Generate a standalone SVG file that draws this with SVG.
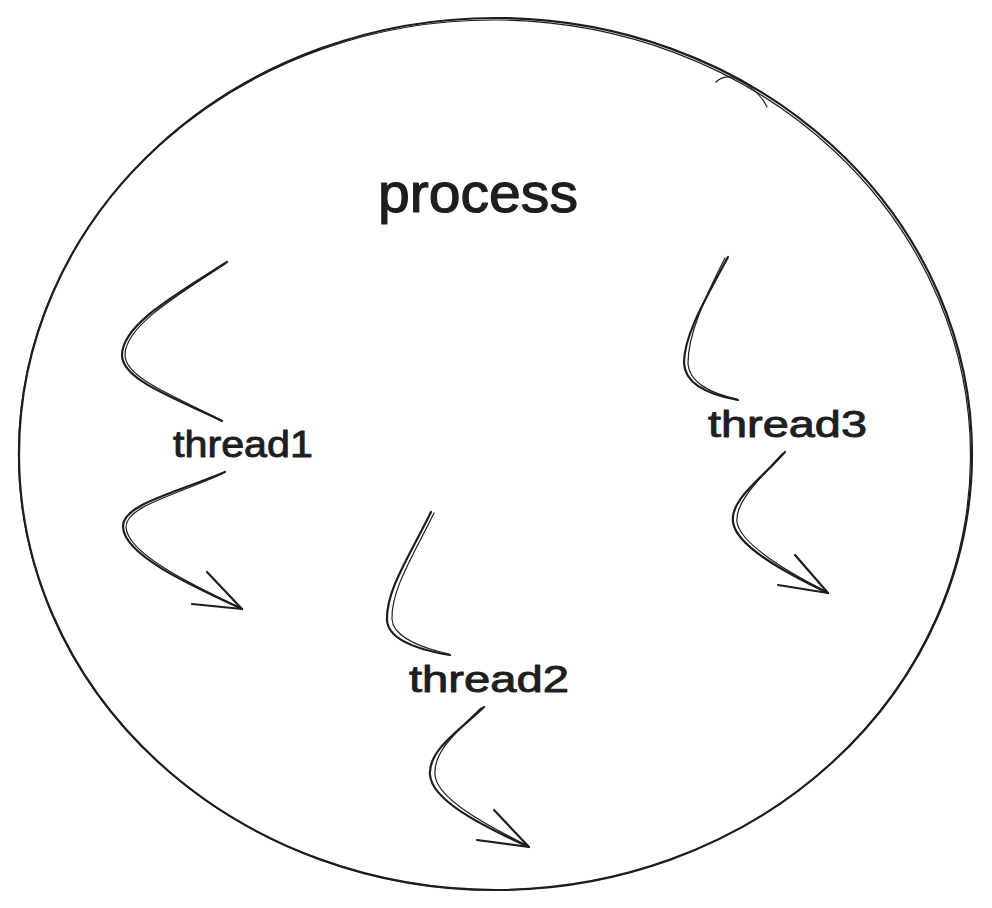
<svg xmlns="http://www.w3.org/2000/svg" width="992" height="908" viewBox="0 0 992 908">
  <style>
    .ink { fill: none; stroke: #1e1e1e; stroke-linecap: round; stroke-linejoin: round; }
    .main { stroke-width: 2.2; }
    .thin { stroke-width: 1.2; }
    .lbl { font-family: "Liberation Sans", "DejaVu Sans", sans-serif; fill: #1e1e1e; stroke: #1e1e1e; stroke-linejoin: round; }
    .thread { font-size: 36px; stroke-width: 0.9; }
    .title { font-size: 56px; stroke-width: 1.2; }
  </style>
  <rect width="992" height="908" fill="#ffffff"/>

  <g id="process">
    <ellipse class="ink main" cx="495.5" cy="454" rx="476.5" ry="436"/>
    <ellipse class="ink thin" cx="494.5" cy="455" rx="476" ry="435" transform="rotate(0.6 494.5 455)"/>
    <path class="ink thin" d="M716,82 Q722,76 732,77 Q758,88 767,107"/>
    <text class="lbl title" x="378" y="212" textLength="200" lengthAdjust="spacingAndGlyphs">process</text>
  </g>

  <g id="thread1">
    <text class="lbl thread" x="173" y="457" textLength="140" lengthAdjust="spacingAndGlyphs">thread1</text>
  </g>
  <g id="thread2">
    <text class="lbl thread" x="409" y="692" textLength="160" lengthAdjust="spacingAndGlyphs">thread2</text>
  </g>
  <g id="thread3">
    <text class="lbl thread" x="708" y="437" textLength="159" lengthAdjust="spacingAndGlyphs">thread3</text>
  </g>

  <g id="connectors">
    <!-- thread1 incoming -->
    <path class="ink main" d="M227,262 C175,295 122,325 122,355 C122,380 175,398 222,421"/>
    <path class="ink thin" d="M225,264 C174,297 125,327 125,355 C125,378 176,397 221,420"/>
    <!-- thread1 outgoing -->
    <path class="ink main" d="M225,472 C170,495 122,505 123,527 C124,555 190,585 242,609"/>
    <path class="ink thin" d="M222,474 C170,497 126,507 126,527 C127,553 190,584 241,608"/>
    <path class="ink main" d="M207,572 L242,609 L192,604"/>

    <!-- thread2 incoming -->
    <path class="ink main" d="M431,512 C410,555 386,590 387,620 C388,640 420,650 450,655"/>
    <path class="ink thin" d="M434,513 C413,556 391,590 392,619 C393,637 422,648 449,654"/>
    <!-- thread2 outgoing -->
    <path class="ink main" d="M484,707 C460,730 428,750 430,775 C432,800 480,825 529,847"/>
    <path class="ink thin" d="M481,708 C458,731 433,751 435,775 C437,798 482,823 528,846"/>
    <path class="ink main" d="M494,810 L529,847 L477,840"/>

    <!-- thread3 incoming -->
    <path class="ink main" d="M728,257 C705,300 684,335 684,363 C685,385 710,395 738,400"/>
    <path class="ink thin" d="M725,258 C703,301 688,336 688,363 C689,383 712,394 737,399"/>
    <!-- thread3 outgoing -->
    <path class="ink main" d="M785,452 C760,480 730,500 733,522 C736,545 780,570 828,593"/>
    <path class="ink thin" d="M782,454 C758,481 735,502 737,522 C740,543 782,569 827,592"/>
    <path class="ink main" d="M795,555 L828,593 L778,585"/>
  </g>
</svg>
